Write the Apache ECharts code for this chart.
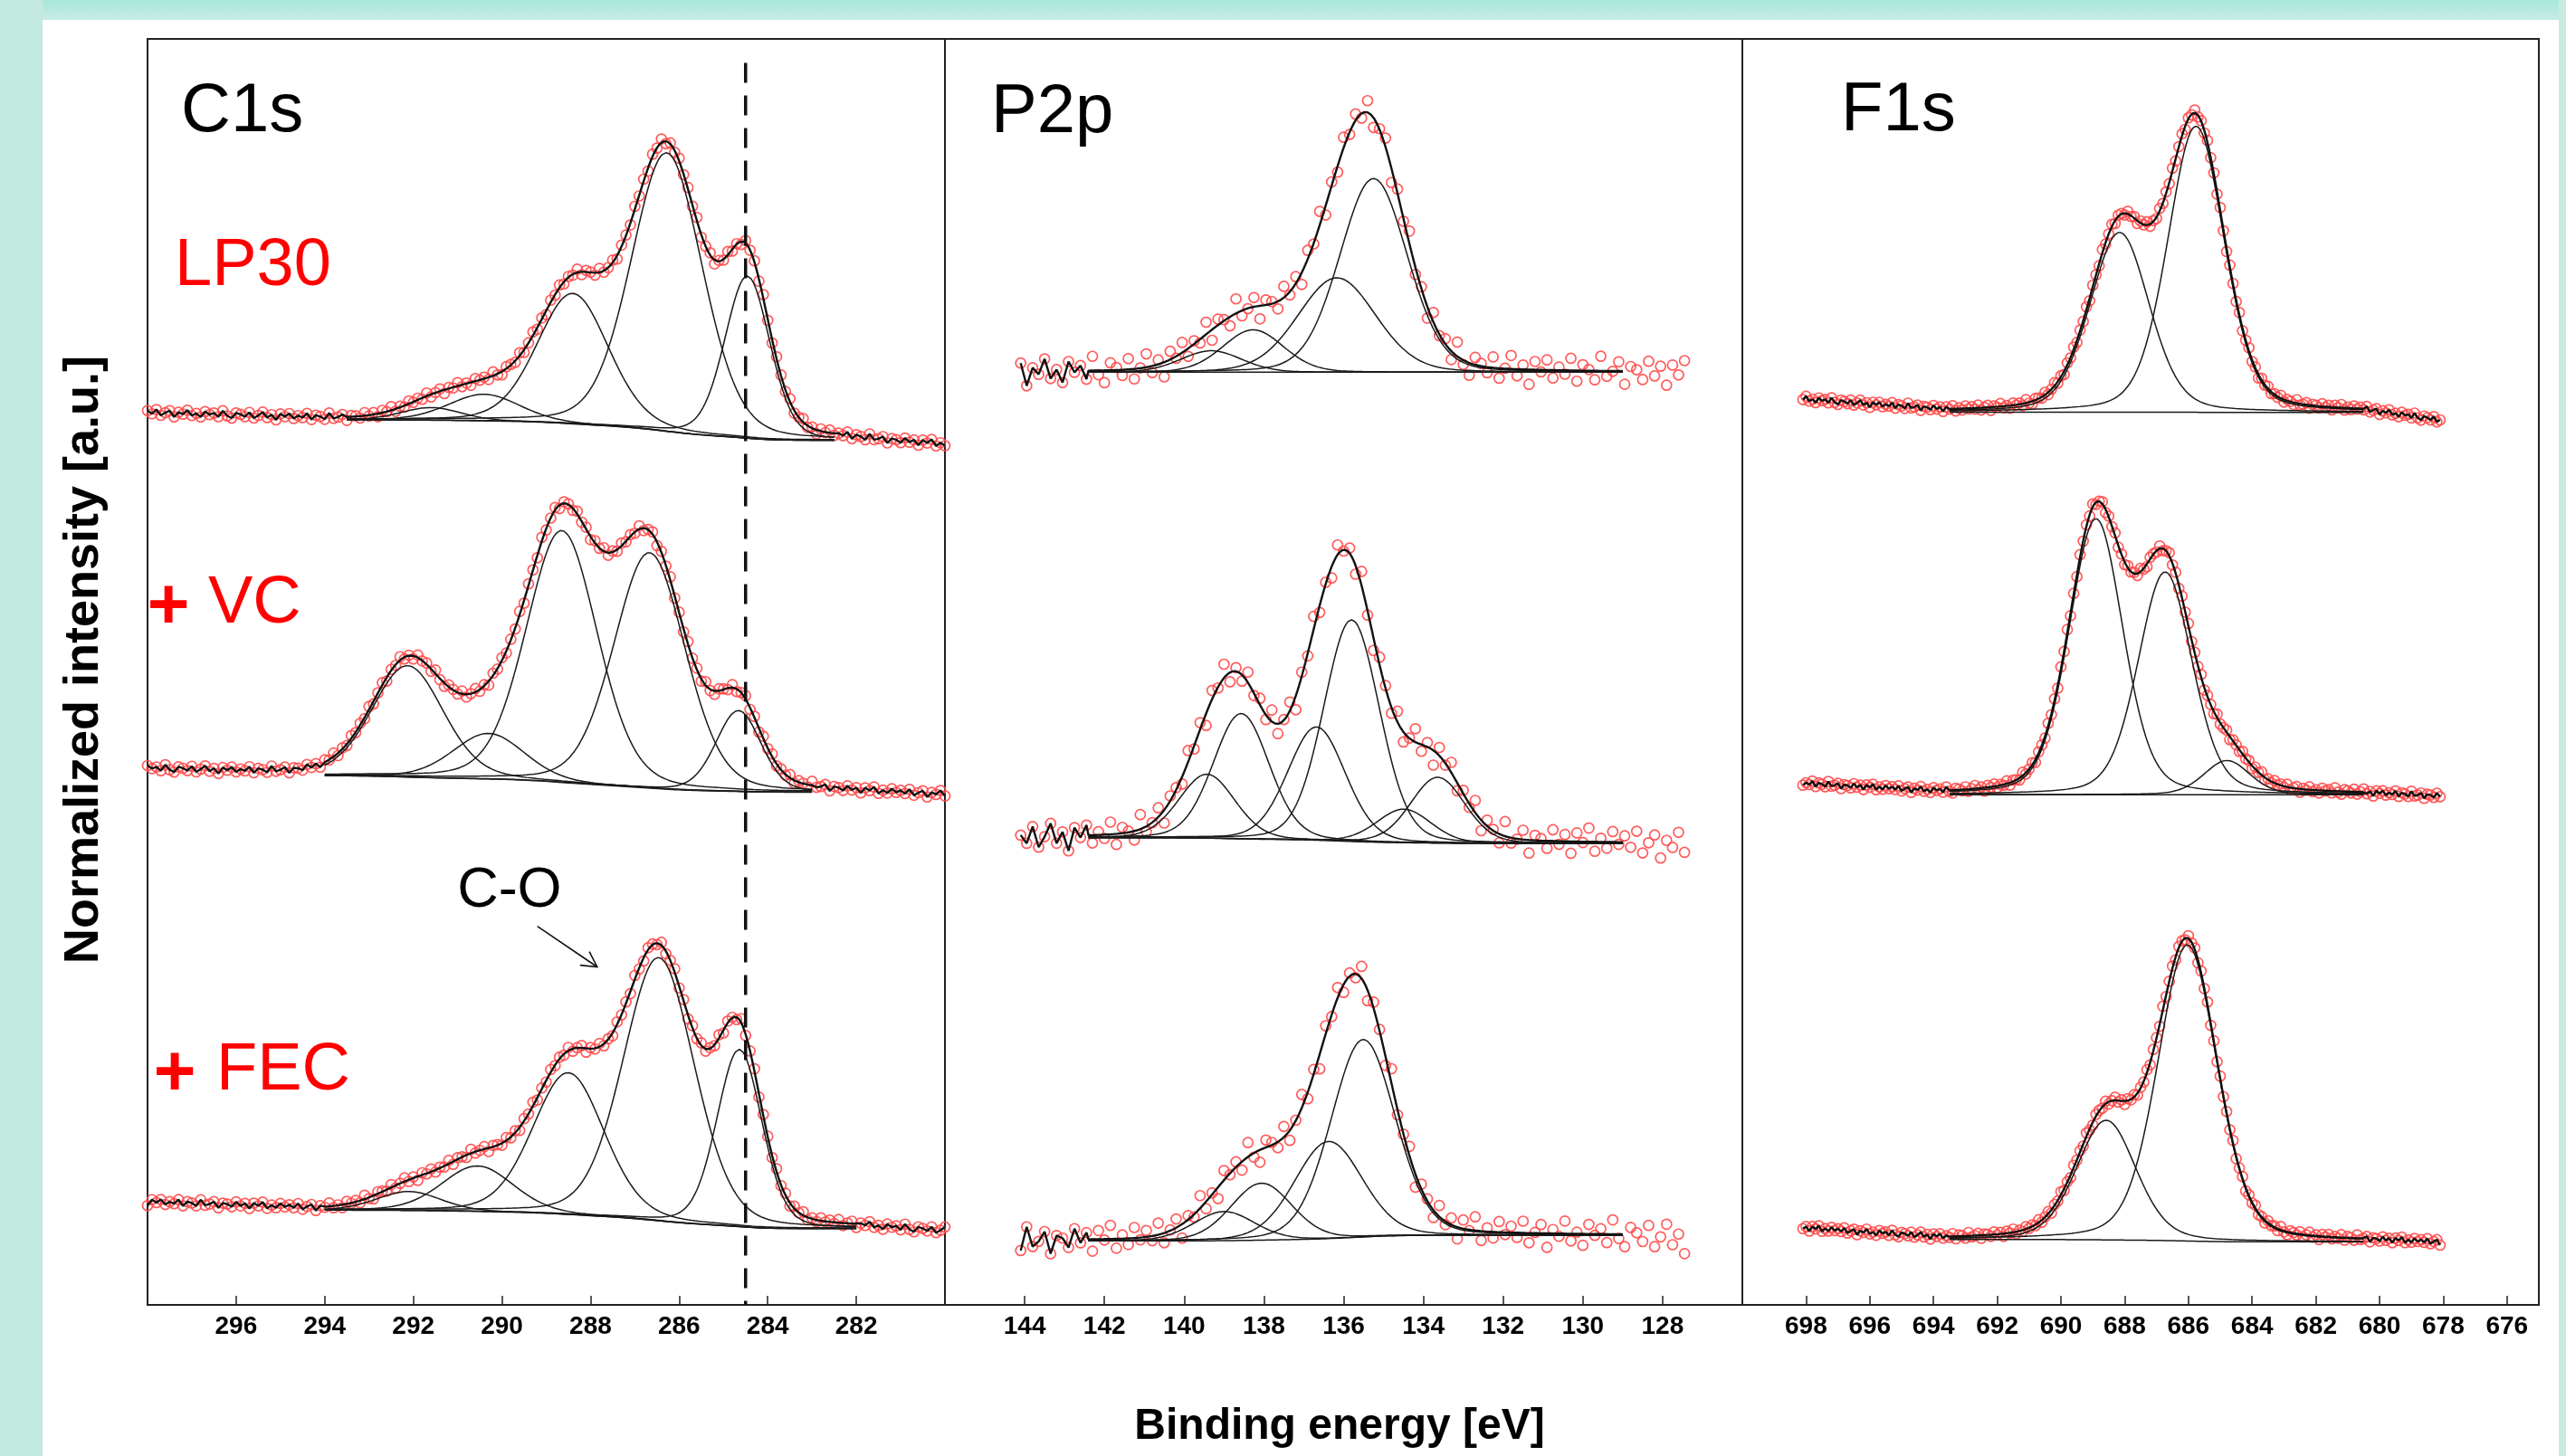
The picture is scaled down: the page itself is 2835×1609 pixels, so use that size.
<!DOCTYPE html>
<html><head><meta charset="utf-8">
<script src="https://cdn.jsdelivr.net/npm/echarts@6/dist/echarts.min.js"></script>
<style>html,body{margin:0;padding:0;background:#fff;}#c{width:2835px;height:1609px;}</style>
</head><body><div id="c"></div>
<script>
// ---------------- tick labels / axis ranges (eV) ----------------
const C1S_TICKS = [282, 284, 286, 288, 290, 292, 294, 296];
const P2P_TICKS = [128, 130, 132, 134, 136, 138, 140, 142, 144];
const F1S_TICKS = [676, 678, 680, 682, 684, 686, 688, 690, 692, 694, 696, 698];
const C1S_RANGE = [280, 298];
const P2P_RANGE = [126, 146];
const F1S_RANGE = [675, 700];

// ---------------- fitted components: [centre eV, height a.u., FWHM eV] ----------------
const C1S_LP30_PEAKS = [[291.6, 1.0, 1.6], [290.4, 2.1, 1.9], [288.4, 10.3, 1.9], [286.28, 22.0, 1.9], [284.46, 12.8, 1.2]];
const C1S_VC_PEAKS   = [[292.13, 8.8, 1.9], [290.3, 3.6, 1.9], [288.65, 19.9, 1.9], [286.67, 18.6, 1.9], [284.66, 6.4, 1.2]];
const C1S_FEC_PEAKS  = [[292.1, 1.5, 1.7], [290.55, 3.6, 1.9], [288.5, 11.2, 1.9], [286.46, 20.8, 1.9], [284.64, 14.0, 1.2]];

const P2P_LP30_PEAKS = [[139.32, 1.7, 1.8], [138.27, 3.35, 1.8], [136.17, 7.46, 2.3], [135.25, 15.3, 2.0]];
const P2P_VC_PEAKS   = [[139.43, 5.05, 1.65], [138.57, 9.9, 1.65], [136.68, 8.95, 1.7], [135.8, 17.5, 1.65], [134.49, 2.65, 1.6], [133.64, 5.2, 1.6]];
const P2P_FEC_PEAKS  = [[139.0, 2.3, 1.8], [138.06, 4.5, 1.8], [136.38, 7.67, 2.0], [135.51, 15.6, 1.9]];

const F1S_LP30_PEAKS = [[688.16, 14.2, 2.2], [685.76, 22.6, 2.1]];
const F1S_VC_PEAKS   = [[688.9, 21.8, 2.0], [686.73, 17.6, 2.0], [684.79, 2.7, 1.7]];
const F1S_FEC_PEAKS  = [[688.58, 9.45, 2.2], [686.03, 23.4, 2.2]];

// ---------------- backgrounds (stacked, normalized a.u.) ----------------
// [data level at high-BE end, Shirley level high-BE, Shirley level low-BE, data level at low-BE end]
const C1S_LP30_BG = [70.5, 69.9, 68.3, 68.0];
const C1S_VC_BG   = [42.4, 41.8, 40.5, 40.35];
const C1S_FEC_BG  = [8.15, 7.48, 6.03, 5.87];
const P2P_LP30_BG = [73.7, 73.67, 73.67, 73.5];
const P2P_VC_BG   = [36.9, 36.9, 36.45, 36.3];
const P2P_FEC_BG  = [5.0, 5.05, 5.5, 5.2];
const F1S_LP30_BG = [71.56, 70.52, 70.5, 69.9];
const F1S_VC_BG   = [41.2, 40.3, 40.3, 40.2];
const F1S_FEC_BG  = [6.08, 5.16, 4.98, 4.98];

// ---------------- fitted and measured energy windows [low, high] eV ----------------
const C1S_LP30_FIT = [282.5, 293.5];
const C1S_VC_FIT   = [283.0, 294.0];
const C1S_FEC_FIT  = [282.0, 294.0];
const C1S_DATA     = [280.0, 298.0];
const P2P_FIT      = [129.0, 142.4];
const P2P_DATA     = [127.4, 144.1];
const F1S_FIT      = [680.5, 693.5];
const F1S_DATA     = [678.1, 698.1];

// measurement scatter about the fit (typical residual pattern, units of noise amplitude)
const RESID = [0.42,-0.31,0.77,-0.64,0.05,0.58,-0.92,0.26,-0.18,0.83,-0.47,0.11,-0.75,0.63,-0.09,0.35,-0.56,0.94,-0.28,-0.81,0.49,0.17,-0.38,0.71,-0.66,0.02,0.88,-0.44,0.29,-0.97,0.54,-0.13,0.67,-0.52,0.21,-0.25,0.8,-0.7,0.39,0.08,-0.59,0.96,-0.35,-0.02,0.61,-0.86,0.33,0.14,-0.49,0.74,-0.21,0.45,-0.78,0.57,-0.06,0.9,-0.62,0.24,-0.41,0.69,-0.15];

const C1S_REF_LINE = 284.5;       // dashed reference
const CO_ARROW = {from: [289.2, 29.9], to: [287.85, 26.7], label: [289.83, 32.7]};

// ---------------- helpers ----------------
const FONT = '"Liberation Sans", Arial, Helvetica, sans-serif';
const LINE = '#1a1a1a';
function erf(x){const s=x<0?-1:1;x=Math.abs(x);const t=1/(1+0.3275911*x);
  const y=1-(((((1.061405429*t-1.453152027)*t)+1.421413741)*t-0.284496736)*t+0.254829592)*t*Math.exp(-x*x);return s*y;}
function Phi(x){return 0.5*(1+erf(x/Math.SQRT2));}
function pk(E,p,m){const d=E-p[0],w=p[2];const g=Math.exp(-4*Math.LN2*d*d/(w*w));const l=1/(1+4*d*d/(w*w));return p[1]*((1-m)*g+m*l);}

const series = [];
function spectrum(gi, peaks, bg, fit, data, step, m, amp, phase, lineRight){
  const sig = peaks.map(p=>p[2]/2.35482);
  const areas = peaks.map(p=>p[1]*p[2]);
  const tot = areas.reduce((a,b)=>a+b,0);
  const base = E => {let f=0;peaks.forEach((p,k)=>{f+=areas[k]*Phi((E-p[0])/sig[k]);});return bg[2]+(bg[1]-bg[2])*f/tot;};
  const env = E => base(E)+peaks.reduce((s,p)=>s+pk(E,p,m),0);
  const eHi = env(data[1]), eLo = env(data[0]);
  const pts = [];
  const n = Math.round((data[1]-data[0])/step);
  for(let i=0;i<=n;i++){
    const E = data[1]-i*step;
    let y = env(E);
    if(E>fit[1]) y += (E-fit[1])/(data[1]-fit[1])*(bg[0]-eHi);
    if(E<fit[0]) y += (fit[0]-E)/(fit[0]-data[0])*(bg[3]-eLo);
    y += amp*RESID[(i+phase)%RESID.length];
    pts.push([+E.toFixed(3), y]);
  }
  const fine=[]; const nf=Math.round((fit[1]-fit[0])/0.04);
  for(let j=0;j<=nf;j++) fine.push(fit[1]-j*(fit[1]-fit[0])/nf);
  const common = {xAxisIndex:gi,yAxisIndex:gi,silent:true,animation:false};
  series.push(Object.assign({type:'scatter',data:pts,symbol:'circle',symbolSize:11,z:2,
    itemStyle:{color:'rgba(0,0,0,0)',borderColor:'#ff4a4a',borderWidth:1.7,opacity:0.9}},common));
  peaks.forEach(p=>{
    series.push(Object.assign({type:'line',showSymbol:false,symbol:'none',z:3,
      data:fine.map(E=>[E,base(E)+pk(E,p,m)]),lineStyle:{color:LINE,width:1.5}},common));
  });
  series.push(Object.assign({type:'line',showSymbol:false,symbol:'none',z:3,
    data:fine.map(E=>[E,base(E)]),lineStyle:{color:LINE,width:1.5}},common));
  const fitLine = pts.filter(p=>p[0]>fit[1]).concat(fine.map(E=>[E,env(E)]),
    lineRight?pts.filter(p=>p[0]<fit[0]):[]);
  series.push(Object.assign({type:'line',showSymbol:false,symbol:'none',z:4,
    data:fitLine,lineStyle:{color:'#111',width:2.4}},common));
}

spectrum(0, C1S_LP30_PEAKS, C1S_LP30_BG, C1S_LP30_FIT, C1S_DATA, 0.1, 0.2, 0.32, 0, true);
spectrum(0, C1S_VC_PEAKS,   C1S_VC_BG,   C1S_VC_FIT,   C1S_DATA, 0.1, 0.2, 0.32, 13, true);
spectrum(0, C1S_FEC_PEAKS,  C1S_FEC_BG,  C1S_FEC_FIT,  C1S_DATA, 0.1, 0.2, 0.32, 29, true);
spectrum(1, P2P_LP30_PEAKS, P2P_LP30_BG, P2P_FIT, P2P_DATA, 0.15, 0.15, 1.2, 5, false);
spectrum(1, P2P_VC_PEAKS,   P2P_VC_BG,   P2P_FIT, P2P_DATA, 0.15, 0.15, 1.2, 21, false);
spectrum(1, P2P_FEC_PEAKS,  P2P_FEC_BG,  P2P_FIT, P2P_DATA, 0.15, 0.15, 1.2, 40, false);
spectrum(2, F1S_LP30_PEAKS, F1S_LP30_BG, F1S_FIT, F1S_DATA, 0.1, 0.25, 0.28, 8, true);
spectrum(2, F1S_VC_PEAKS,   F1S_VC_BG,   F1S_FIT, F1S_DATA, 0.1, 0.25, 0.28, 33, true);
spectrum(2, F1S_FEC_PEAKS,  F1S_FEC_BG,  F1S_FIT, F1S_DATA, 0.1, 0.25, 0.28, 50, true);

series.push({type:'line',xAxisIndex:0,yAxisIndex:0,silent:true,animation:false,showSymbol:false,symbol:'none',z:5,
  data:[[C1S_REF_LINE,98.1],[C1S_REF_LINE,0]],lineStyle:{color:'#111',width:3.5,type:[22,14]}});

function xAx(gi, range, ticks){
  return {type:'value',gridIndex:gi,min:range[0],max:range[1],inverse:true,
    axisLine:{show:true,onZero:false,lineStyle:{color:'#222',width:2}},
    axisTick:{show:true,inside:true,length:10,customValues:ticks,lineStyle:{color:'#222',width:1.5}},
    axisLabel:{show:true,customValues:ticks,fontSize:28,fontWeight:'bold',color:'#000',fontFamily:FONT,margin:10},
    splitLine:{show:false}};
}
function yAx(gi){return {type:'value',gridIndex:gi,min:0,max:100,show:false,splitLine:{show:false}};}
const gridBase = {top:43,height:1399,show:true,borderColor:'#222',borderWidth:2,backgroundColor:'rgba(0,0,0,0)'};

const chart = echarts.init(document.getElementById('c'), null, {renderer:'canvas'});
chart.setOption({
  animation:false,
  backgroundColor:'#ffffff',
  textStyle:{fontFamily:FONT},
  grid:[Object.assign({left:163,width:881},gridBase),Object.assign({left:1044,width:881},gridBase),Object.assign({left:1925,width:880},gridBase)],
  xAxis:[xAx(0,C1S_RANGE,C1S_TICKS),xAx(1,P2P_RANGE,P2P_TICKS),xAx(2,F1S_RANGE,F1S_TICKS)],
  yAxis:[yAx(0),yAx(1),yAx(2)],
  series:series
});

// ---------------- annotations ----------------
function txt(x,y,text,size,color,bold,align){
  return {type:'text',x:x,y:y,z:10,silent:true,style:{text:text,x:0,y:0,fill:color,
    font:(bold?'bold ':'')+size+'px '+FONT,align:align||'left',verticalAlign:'middle',
    textAlign:align||'left',textVerticalAlign:'middle'}};
}
const a0 = chart.convertToPixel({gridIndex:0}, CO_ARROW.from);
const a1 = chart.convertToPixel({gridIndex:0}, CO_ARROW.to);
const lab = chart.convertToPixel({gridIndex:0}, CO_ARROW.label);
const ang = Math.atan2(a1[1]-a0[1], a1[0]-a0[0]);
const hl = 19, ha = 0.5;
const h1 = [a1[0]-hl*Math.cos(ang-ha), a1[1]-hl*Math.sin(ang-ha)];
const h2 = [a1[0]-hl*Math.cos(ang+ha), a1[1]-hl*Math.sin(ang+ha)];

chart.setOption({graphic:[
  {type:'rect',z:-1,silent:true,shape:{x:0,y:0,width:2835,height:22},
    style:{fill:new echarts.graphic.LinearGradient(0,0,0,1,[{offset:0,color:'#a9e6d9'},{offset:1,color:'#c6ede5'}])}},
  {type:'rect',z:-1,silent:true,shape:{x:0,y:0,width:47,height:1609},style:{fill:'#c4e9e1'}},
  {type:'rect',z:-1,silent:true,shape:{x:2827,y:0,width:8,height:1609},style:{fill:'#c8ebe3'}},
  txt(200,124,'C1s',76,'#000',false),
  txt(1095,125,'P2p',76,'#000',false),
  txt(2034,123,'F1s',76,'#000',false),
  txt(193,295,'LP30',74,'#ff0000',false),
  txt(186,672,'+',80,'#ff0000',true,'center'),
  txt(230,668,'VC',74,'#ff0000',false),
  txt(193,1188,'+',80,'#ff0000',true,'center'),
  txt(239,1184,'FEC',74,'#ff0000',false),
  txt(lab[0],lab[1],'C-O',63,'#000',false,'center'),
  {type:'polyline',z:10,silent:true,shape:{points:[a0,a1]},style:{stroke:'#111',lineWidth:1.6,fill:null}},
  {type:'polyline',z:10,silent:true,shape:{points:[h1,a1,h2]},style:{stroke:'#111',lineWidth:1.6,fill:null}},
  txt(1480,1577,'Binding energy [eV]',48,'#000',true,'center'),
  {type:'text',x:93,y:729,rotation:Math.PI/2,z:10,silent:true,style:{text:'Normalized intensity [a.u.]',x:0,y:0,
    fill:'#000',font:'bold 54px '+FONT,align:'center',verticalAlign:'middle',textAlign:'center',textVerticalAlign:'middle'}}
]});
</script>
</body></html>
